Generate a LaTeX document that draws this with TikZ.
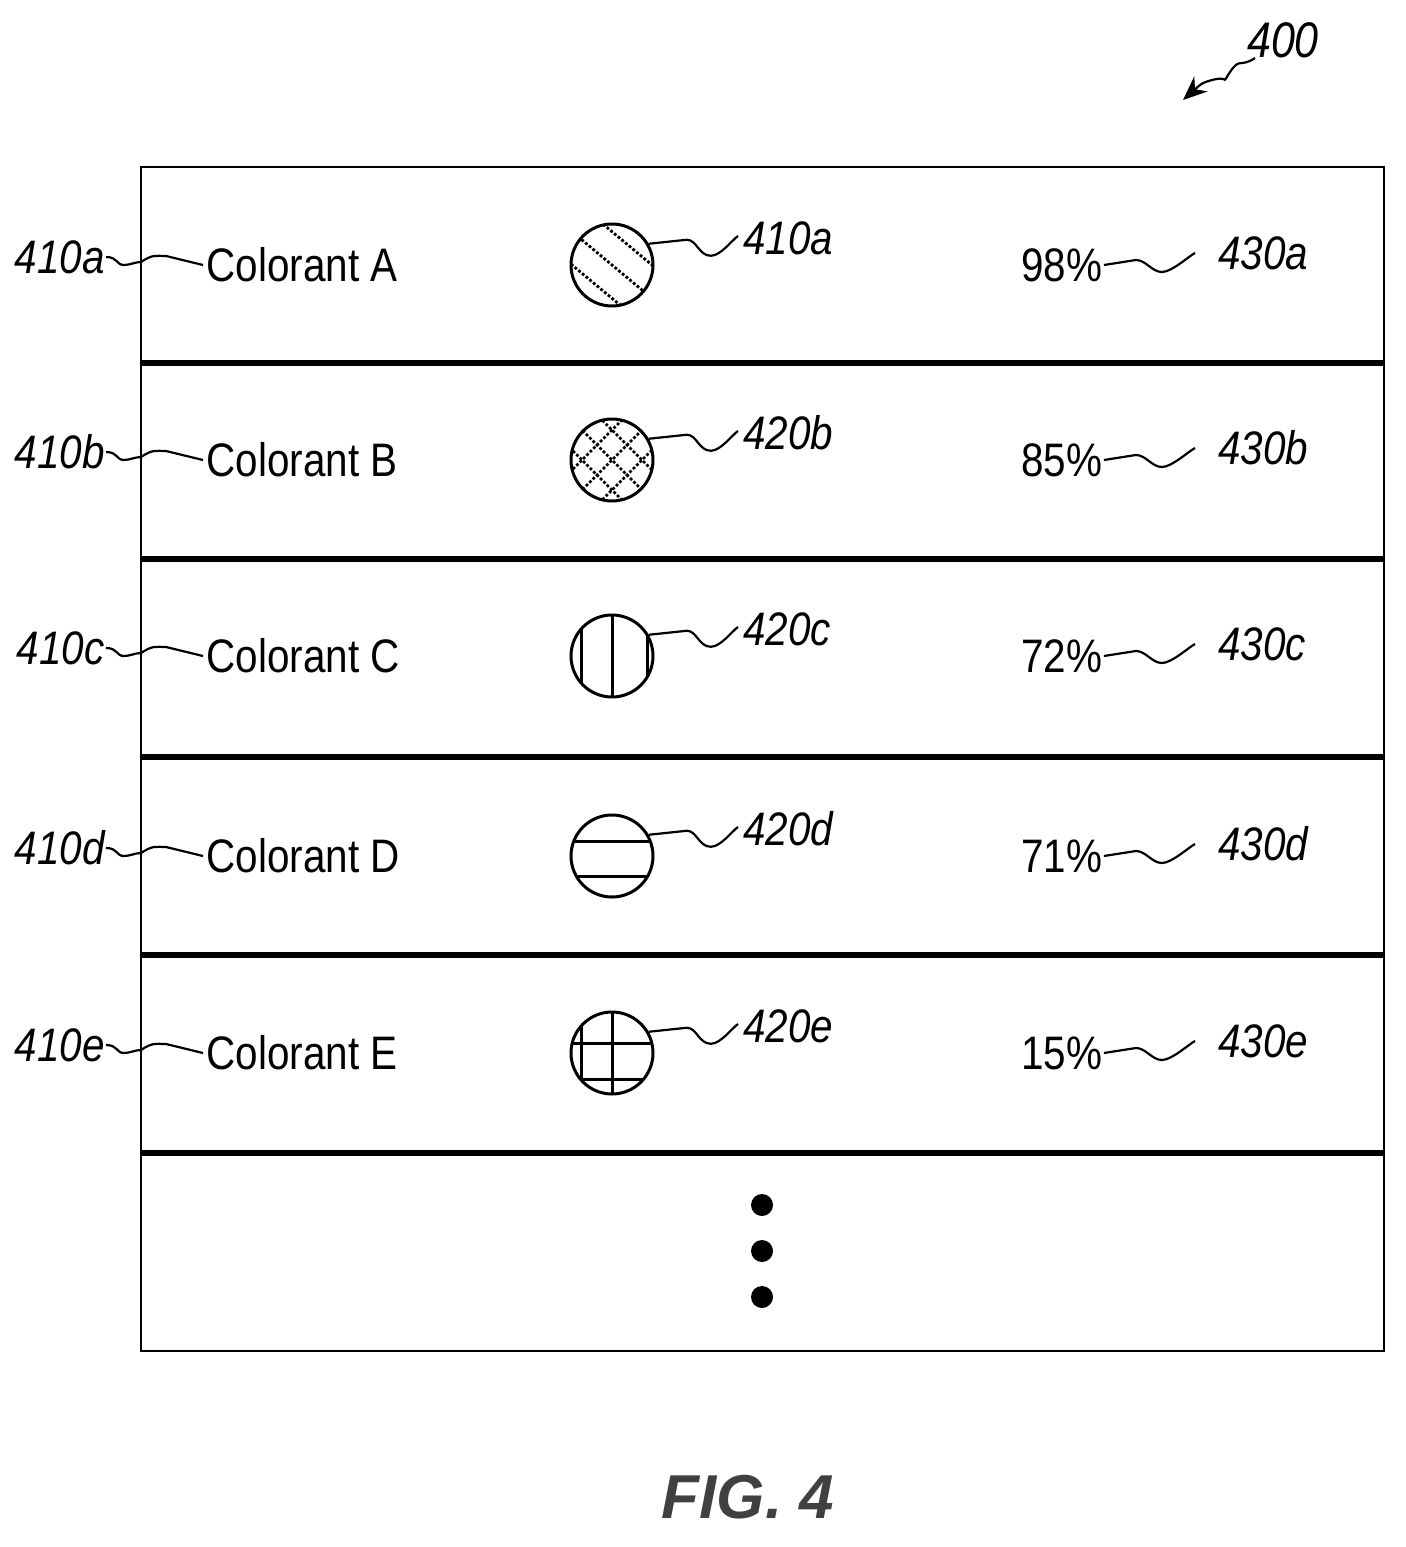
\documentclass[tikz,border=0pt]{standalone}
\usepackage{fontspec}
\setmainfont{Liberation Sans}
\newfontfamily\narrow[FakeStretch=0.86]{Liberation Sans}
\usetikzlibrary{calc,arrows.meta}
\begin{document}
\begin{tikzpicture}[x=0.5pt,y=-0.5pt,line width=1.5pt,
 txt/.style={inner sep=0,font=\narrow\fontsize{23.5}{26}\selectfont},
 ref/.style={inner sep=0,font=\narrow\itshape\fontsize{23.5}{26}\selectfont},
 sep/.style={line width=2.6pt},
 hatch/.style={line width=1.4pt}]
\useasboundingbox (0,0) rectangle (1406,1547);
\draw[line width=1.4pt] (141,167) rectangle (1384,1351);
\foreach \y in {363,559,757,955,1153} \draw[sep] (141,\y) -- (1384,\y);
% rows
\foreach \l/\c/\r/\p/\y in {A/410a/a/98/265,B/420b/b/85/460,C/420c/c/72/656,D/420d/d/71/856,E/420e/e/15/1053}{
 \node[ref,anchor=east] (L\r) at (106,\y-8) {410\r};
 \node[txt,anchor=west] (T\r) at (205,\y) {Colorant \l};
 \coordinate (E\r) at (141,\y-3);
 \draw[line width=1.1pt] (L\r.east) .. controls +(12,0) and +(-8,0) .. ++(18,8) .. controls +(6,0) and +(-6,0) .. (E\r)
   .. controls +(12,-8) and +(-10,0) .. ++(25,-6) -- ($(T\r.west)+(-2,0)$);
 \node[circle,draw,minimum size=41pt,inner sep=0] (C\r) at (612,\y) {};
 \node[ref,anchor=west] (R\r) at (742,\y-27) {\c};
 \draw[line width=1.1pt] (C\r.30) -- ++(38,-4) .. controls +(10,0) and +(-12,0) .. ++(24,16) .. controls +(10,0) and +(-6,4) .. ($(R\r.west)+(-4,-2)$);
 \node[txt,anchor=west] (P\r) at (1020,\y) {\p\%};
 \node[ref,anchor=west] (Q\r) at (1217,\y-12) {430\r};
 \draw[line width=1.1pt] (P\r.east) -- ++(32,-5) .. controls +(10,0) and +(-10,0) .. ++(26,12) .. controls +(10,0) and +(-6,3) .. ($(Q\r.west)+(-22,0)$);
}
% hatching
\begin{scope}
 \clip (Ca) circle (41);
 \foreach \d in {-40,0,40} \draw[hatch,densely dotted] ($(Ca)+(\d,0)+(-60,-50)$) -- ++(120,100);
\end{scope}
\begin{scope}
 \clip (Cb) circle (41);
 \foreach \d in {-60,-30,0,30,60} {\draw[hatch,densely dotted] ($(Cb)+(\d,0)+(-60,-60)$) -- ++(120,120);
  \draw[hatch,densely dotted] ($(Cb)+(\d,0)+(-60,60)$) -- ++(120,-120);}
\end{scope}
\begin{scope}
 \clip (Cc) circle (41);
 \foreach \d in {-31,0,35} \draw ($(Cc)+(\d,-50)$) -- ++(0,100);
\end{scope}
\begin{scope}
 \clip (Cd) circle (41);
 \foreach \d in {-15,20} \draw ($(Cd)+(-50,\d)$) -- ++(100,0);
\end{scope}
\begin{scope}
 \clip (Ce) circle (41);
 \foreach \d in {-31,0} \draw ($(Ce)+(\d,-50)$) -- ++(0,100);
 \foreach \d in {-10,26} \draw ($(Ce)+(-50,\d)$) -- ++(100,0);
\end{scope}
\foreach \y/\n in {1205/1,1251/2,1297/3} \fill (762,\y) circle (11) coordinate (dot\n);
% 400
\node[ref,font=\narrow\itshape\fontsize{25}{27}\selectfont] (N400) at (1283,40) {400};
\coordinate (A400) at (1183,100);
\draw[line width=1.1pt,-{Stealth[length=12,width=10]}] (1255,58) .. controls +(-15,10) and +(10,-15) .. (1230,72) .. controls +(-10,15) and +(20,-5) .. (1212,80) .. controls +(-10,3) .. (A400);
\node[font=\bfseries\itshape\fontsize{31}{34}\selectfont,text=black!75] (fig) at (748,1497) {FIG. 4};
\end{tikzpicture}
\end{document}
